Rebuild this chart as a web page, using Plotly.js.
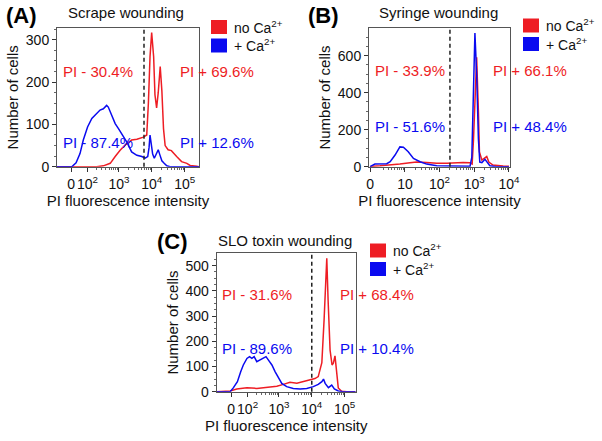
<!DOCTYPE html>
<html>
<head>
<meta charset="utf-8">
<script src="https://cdn.plot.ly/plotly-3.0.1.min.js"></script>
<style>
  html, body { margin: 0; padding: 0; background: #fff; }
  #chart { width: 602px; height: 441px; }
</style>
</head>
<body>
<div id="chart"></div>
<script>
// histogram bins on the logicle display scale (decades) and cell counts per bin
// (A) scrape wounding
var chA_red  = [-0.43, 0.78, 0.98, 1.19, 1.34, 1.49, 1.64, 1.84, 2.00, 2.10, 2.20, 2.30, 2.35, 2.40, 2.45, 2.51, 2.55, 2.60, 2.65, 2.71, 2.76, 2.81, 2.86, 2.95, 3.05, 3.21, 3.36, 3.52, 3.62, 3.82, 3.89];
var cntA_red = [0, 0, 2, 8, 24, 39, 51, 63, 65, 67, 70, 75, 150, 260, 317, 260, 170, 139, 175, 237, 180, 90, 50, 40, 38, 24, 12, 8, 3, 1, 0];
var chA_blue  = [-0.43, 0.02, 0.15, 0.27, 0.37, 0.50, 0.63, 0.78, 0.88, 0.98, 1.08, 1.13, 1.24, 1.34, 1.44, 1.59, 1.69, 1.84, 2.00, 2.15, 2.25, 2.33, 2.37, 2.40, 2.44, 2.48, 2.53, 2.59, 2.65, 2.70, 2.76, 2.83, 2.91, 3.01, 3.89];
var cntA_blue = [0, 0, 9, 31, 63, 94, 114, 126, 134, 137, 145, 141, 122, 102, 90, 71, 59, 35, 27, 24, 20, 24, 45, 75, 50, 30, 20, 30, 40, 28, 14, 8, 2, 0, 0];

// (B) syringe wounding
var chB_red  = [0, 0.09, 0.29, 0.58, 0.86, 1.15, 1.34, 1.63, 1.92, 2.21, 2.40, 2.68, 2.88, 2.94, 2.98, 3.03, 3.07, 3.12, 3.15, 3.22, 3.29, 3.36, 3.42, 3.54, 3.83, 4.0];
var cntB_red = [0, 3, 5, 9, 14, 21, 25, 23, 18, 18, 21, 23, 21, 15, 150, 450, 591, 300, 80, 36, 45, 55, 25, 9, 4, 2];
var chB_blue  = [0, 0.14, 0.48, 0.58, 0.72, 0.86, 0.96, 1.10, 1.25, 1.44, 1.63, 1.92, 2.30, 2.73, 2.88, 2.93, 2.97, 3.02, 3.07, 3.12, 3.16, 3.22, 3.31, 3.37, 3.45, 3.60, 4.0];
var cntB_blue = [0, 14, 16, 27, 63, 107, 105, 81, 45, 27, 14, 5, 4, 3, 3, 50, 350, 722, 500, 150, 25, 22, 40, 25, 5, 1, 0];

// (C) SLO toxin wounding
var chC_red  = [-0.44, -0.03, 0.17, 0.48, 0.78, 1.08, 1.39, 1.59, 1.79, 2.00, 2.20, 2.40, 2.55, 2.65, 2.76, 2.83, 2.89, 2.91, 2.95, 3.01, 3.07, 3.11, 3.16, 3.21, 3.26, 3.36, 3.52, 3.79];
var cntC_red = [0, 3, 11, 16, 13, 17, 22, 29, 37, 34, 40, 45, 52, 60, 115, 290, 480, 529, 364, 165, 106, 113, 142, 74, 15, 2, 0, 0];
var chC_blue  = [-0.44, -0.03, 0.07, 0.19, 0.29, 0.37, 0.48, 0.56, 0.63, 0.70, 0.78, 0.88, 0.98, 1.06, 1.13, 1.24, 1.34, 1.44, 1.54, 1.69, 1.89, 2.10, 2.30, 2.50, 2.65, 2.76, 2.81, 2.86, 2.96, 3.06, 3.14, 3.26, 3.41, 3.79];
var cntC_blue = [0, 0, 16, 40, 79, 106, 132, 139, 132, 139, 119, 126, 132, 139, 126, 106, 79, 53, 33, 20, 13, 11, 13, 20, 29, 40, 50, 33, 16, 26, 11, 3, 0, 0];

// gate (PI intensity) and percentages either side of it: [no Ca, + Ca]
var gates = [5800, 200, 10000];
var pctNegA = [30.4, 87.4], pctPosA = [69.6, 12.6];
var pctNegB = [33.9, 51.6], pctPosB = [66.1, 48.4];
var pctNegC = [31.6, 89.6], pctPosC = [68.4, 10.4];

var panelTitles = ["Scrape wounding", "Syringe wounding", "SLO toxin wounding"];
var panelLetters = ["(A)", "(B)", "(C)"];
var seriesNames = ["no Ca<sup>2+</sup>", "+ Ca<sup>2+</sup>"];

var tickA = [0, 100, 1000, 10000, 100000];
var tickTextA = ["0", "10<sup>2</sup>", "10<sup>3</sup>", "10<sup>4</sup>", "10<sup>5</sup>"];
var tickB = [0, 10, 100, 1000, 10000];
var tickTextB = ["0", "10", "10<sup>2</sup>", "10<sup>3</sup>", "10<sup>4</sup>"];

const RED = "#ee1d24";
const BLUE = "#0a0af0";
const W = 602, H = 441;

function logicle(v, c) {
  return Math.asinh(v / (2 * c)) / Math.LN10;
}
function px(x) { return x / W; }
function py(y) { return 1 - y / H; }

function minorVals(c, kFrom, kTo) {
  var out = [];
  for (let k = kFrom; k <= kTo; k++) {
    for (let m = 2; m <= 9; m++) out.push(logicle(m * Math.pow(10, k), c));
  }
  return out;
}

// pixel boxes of the three plot areas: [left, right, top, bottom]
var boxes = [[57, 199, 28, 166.7], [369, 510, 28.3, 166.7], [216.7, 355.7, 253.3, 391.7]];
var cs = [35.2, 1, 35.2];
var xRanges = [[-0.43, 3.89], [-0.03, 4.03], [-0.44, 3.79]];
var yRanges = [[0, 328], [0, 748], [0, 549]];
var yDticks = [100, 200, 100];
var ticks = [[tickA, tickTextA], [tickB, tickTextB], [tickA, tickTextA]];
var minors = [minorVals(35.2, 2, 4), minorVals(1, 0, 3), minorVals(35.2, 2, 4)];
var curves = [
  [[chA_red, cntA_red], [chA_blue, cntA_blue]],
  [[chB_red, cntB_red], [chB_blue, cntB_blue]],
  [[chC_red, cntC_red], [chC_blue, cntC_blue]]
];
var pcts = [[pctNegA, pctPosA], [pctNegB, pctPosB], [pctNegC, pctPosC]];
// text anchor pixels: [negX, posX, redY, blueY]
var textPos = [[98, 217, 71, 142], [410, 530, 70, 126], [257, 377, 294, 348]];
var titlePos = [[126, 13], [439, 13], [285, 240]];
var letterPos = [[21, 16], [323, 16], [172, 241]];
var legendPos = [[211, 20], [523, 18.5], [370, 243.5]];

const font = "Liberation Sans, Arial, sans-serif";
var traces = [];
var layout = {
  width: W,
  height: H,
  margin: { l: 0, r: 0, t: 0, b: 0 },
  paper_bgcolor: "#fff",
  plot_bgcolor: "#fff",
  showlegend: false,
  font: { family: font, size: 14, color: "#111" },
  annotations: [],
  shapes: []
};

function note(x, y, text, size, color, xanchor) {
  return {
    xref: "paper", yref: "paper", x: px(x), y: py(y),
    xanchor: xanchor || "center", yanchor: "middle",
    text: text, showarrow: false,
    font: { size: size, color: color }
  };
}

for (let i = 0; i < 3; i++) {
  const n = i === 0 ? "" : String(i + 1);
  const b = boxes[i];
  const colors = [RED, BLUE];

  curves[i].forEach((cv, s) => {
    traces.push({
      x: cv[0],
      y: cv[1],
      xaxis: "x" + n,
      yaxis: "y" + n,
      type: "scatter",
      mode: "lines",
      name: seriesNames[s],
      line: { color: colors[s], width: 1.5 }
    });
  });

  layout["xaxis" + n] = {
    domain: [px(b[0]), px(b[1])],
    anchor: "y" + n,
    range: xRanges[i],
    tickmode: "array",
    tickvals: ticks[i][0].map((v) => logicle(v, cs[i])),
    ticktext: ticks[i][1],
    tickangle: 0,
    ticks: "outside",
    ticklen: 4,
    tickcolor: "#333",
    tickfont: { size: 14, color: "#111" },
    minor: { tickvals: minors[i], ticks: "outside", ticklen: 2, tickcolor: "#666" },
    showline: true,
    linecolor: "#555",
    linewidth: 1,
    mirror: true,
    showgrid: false,
    zeroline: false,
    title: { text: "PI fluorescence intensity", font: { size: 15, color: "#111" }, standoff: 4 }
  };
  layout["yaxis" + n] = {
    domain: [py(b[3]), py(b[2])],
    anchor: "x" + n,
    range: yRanges[i],
    dtick: yDticks[i],
    ticks: "outside",
    ticklen: 4,
    tickcolor: "#333",
    tickfont: { size: 14, color: "#111" },
    minor: { dtick: yDticks[i] / 4, ticks: "outside", ticklen: 2, tickcolor: "#666" },
    showline: true,
    linecolor: "#555",
    linewidth: 1,
    mirror: true,
    showgrid: false,
    zeroline: false,
    title: { text: "Number of cells", font: { size: 15, color: "#111" }, standoff: 3 }
  };

  // gate line
  layout.shapes.push({
    type: "line",
    xref: "x" + n,
    yref: "y" + n + " domain",
    x0: logicle(gates[i], cs[i]),
    x1: logicle(gates[i], cs[i]),
    y0: 0,
    y1: 1,
    line: { color: "#222", width: 1.5, dash: "4px,3px" }
  });

  // percentages either side of the gate
  const tp = textPos[i];
  [0, 1].forEach((s) => {
    const y = s === 0 ? tp[2] : tp[3];
    layout.annotations.push(note(tp[0], y, "PI - " + pcts[i][0][s].toFixed(1) + "%", 15, colors[s]));
    layout.annotations.push(note(tp[1], y, "PI + " + pcts[i][1][s].toFixed(1) + "%", 15, colors[s]));
  });

  // panel title and letter
  layout.annotations.push(note(titlePos[i][0], titlePos[i][1], panelTitles[i], 15, "#111"));
  layout.annotations.push(note(letterPos[i][0], letterPos[i][1], "<b>" + panelLetters[i] + "</b>", 22, "#000"));

  // legend: coloured squares + labels
  const lg = legendPos[i];
  [0, 1].forEach((s) => {
    const top = lg[1] + s * 18.5;
    layout.shapes.push({
      type: "rect", xref: "paper", yref: "paper",
      x0: px(lg[0]), x1: px(lg[0] + 16), y0: py(top + 14), y1: py(top),
      fillcolor: colors[s], line: { width: 0 }
    });
    layout.annotations.push(note(lg[0] + 21, top + 7, seriesNames[s], 14, "#111", "left"));
  });
}

Plotly.newPlot("chart", traces, layout, { staticPlot: true });
</script>
</body>
</html>
